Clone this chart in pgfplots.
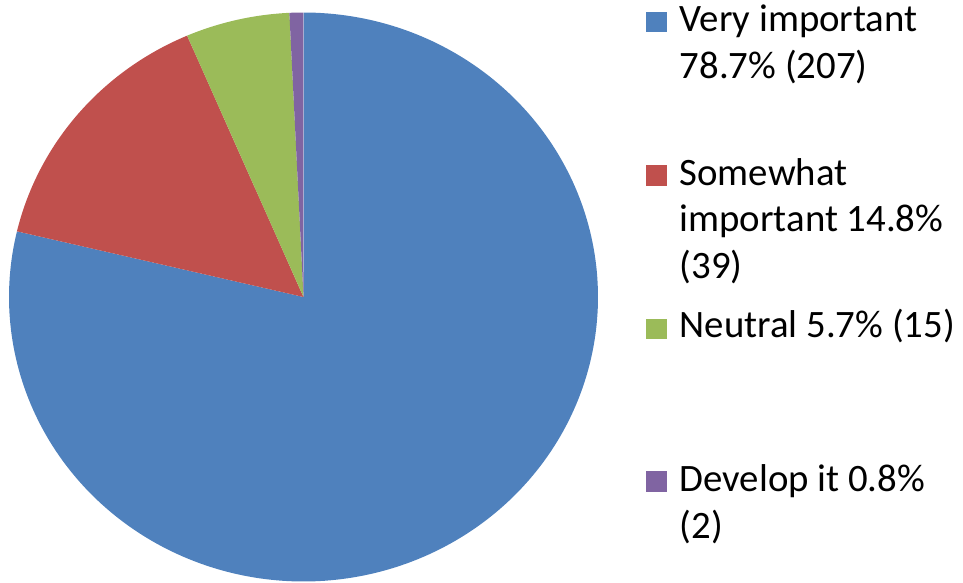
\documentclass[border=0pt]{standalone}
\usepackage{pgfplots}
\usepackage{pgfplotstable}
\pgfplotsset{compat=1.18}
\usepackage{fontspec}
\setmainfont{Carlito}
\definecolor{cblue}{HTML}{4F81BD}
\definecolor{cred}{HTML}{C0504D}
\definecolor{cgreen}{HTML}{9BBB59}
\definecolor{cpurple}{HTML}{8064A2}
\pgfplotstableread{
label value
VeryImportant 207
SomewhatImportant 39
Neutral 15
DevelopIt 2
}\piedata
\begin{document}%
\begin{tikzpicture}[x=1pt,y=1pt]
\pgfplotstablegetelem{0}{value}\of\piedata \let\va\pgfplotsretval
\pgfplotstablegetelem{1}{value}\of\piedata \let\vb\pgfplotsretval
\pgfplotstablegetelem{2}{value}\of\piedata \let\vc\pgfplotsretval
\pgfplotstablegetelem{3}{value}\of\piedata \let\vd\pgfplotsretval
\pgfmathsetmacro{\tot}{\va+\vb+\vc+\vd}
\pgfmathsetmacro{\aA}{90}
\pgfmathsetmacro{\aB}{\aA-360*(\va/\tot)}
\pgfmathsetmacro{\aC}{\aB-360*(\vb/\tot)}
\pgfmathsetmacro{\aD}{\aC-360*(\vc/\tot)}
\pgfmathsetmacro{\aE}{\aD-360*(\vd/\tot)}
\path[use as bounding box] (0,0) rectangle (963,582);
\begin{axis}[
  at={(0,0)}, anchor=south west,
  x=1pt, y=1pt, scale only axis,
  xmin=0, xmax=963, ymin=0, ymax=582,
  hide axis, clip=false,
  variable=\t, samples=241,
]
\addplot[fill=cblue, draw=none, domain=\aB:\aA] ({303.5+294.5*cos(\t)},{285+284.5*sin(\t)}) -- (axis cs:303.5,285) -- cycle;
\addplot[fill=cred, draw=none, domain=\aC:\aB] ({303.5+294.5*cos(\t)},{285+284.5*sin(\t)}) -- (axis cs:303.5,285) -- cycle;
\addplot[fill=cgreen, draw=none, domain=\aD:\aC] ({303.5+294.5*cos(\t)},{285+284.5*sin(\t)}) -- (axis cs:303.5,285) -- cycle;
\addplot[fill=cpurple, draw=none, domain=\aE:\aD] ({303.5+294.5*cos(\t)},{285+284.5*sin(\t)}) -- (axis cs:303.5,285) -- cycle;
\end{axis}
\fill[cblue] (646,550.3) rectangle (667,570.3);
\fill[cred] (646,396.3) rectangle (667,417);
\fill[cgreen] (646,243.5) rectangle (667,263.5);
\fill[cpurple] (646,90.3) rectangle (667,111.3);
\begin{scope}[every node/.style={anchor=base west, inner sep=0pt, font=\fontsize{38.8}{46.5}\selectfont}]
\node at (679.5,550.3) {Very important};
\node at (679.5,503) {78.7\% (207)};
\node at (679.5,396.3) {Somewhat};
\node at (679.5,350.3) {important 14.8\%};
\node at (679.5,304) {(39)};
\node at (679.5,244.3) {Neutral 5.7\% (15)};
\node at (679.5,90.3) {Develop it 0.8\%};
\node at (679.5,43.7) {(2)};
\end{scope}
\end{tikzpicture}%
\end{document}
